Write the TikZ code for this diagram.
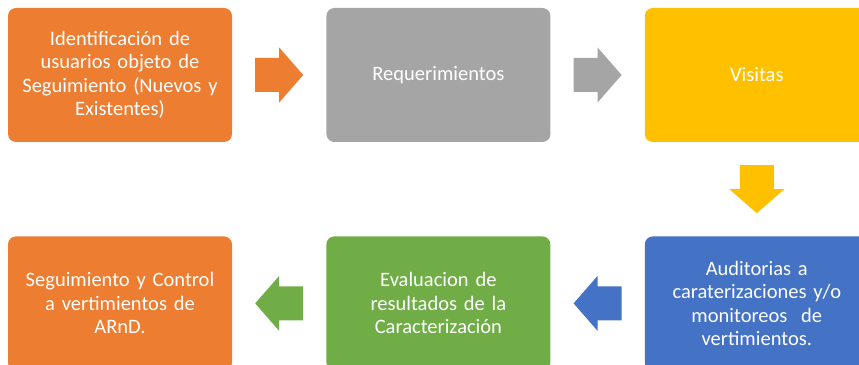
\documentclass[tikz,border=0pt]{standalone}
\usepackage{fontspec}
\setmainfont{Carlito}
\usepackage{tikz}
\usetikzlibrary{calc, positioning}
\definecolor{naranja}{HTML}{ED7D31}
\definecolor{gris}{HTML}{A5A5A5}
\definecolor{amarillo}{HTML}{FFC000}
\definecolor{azul}{HTML}{4472C4}
\definecolor{verde}{HTML}{70AD47}
\tikzset{
    roundnode/.style = {rectangle, rounded corners=8pt, inner sep=0pt, minimum width=224pt,
      minimum height=134pt, text width=216pt, align=center, text=white,
      font=\fontsize{20.5}{23.5}\selectfont, node distance=94pt},
}
% block arrow: #1 center, #2 colour, #3 angle
\newcommand{\flecha}[3]{\begin{scope}[shift={(#1)}, rotate=#3]
    \fill[#2] (-24,-17) -- (0,-17) -- (0,-27.5) -- (24,0) -- (0,27.5) -- (0,17) -- (-24,17) -- cycle;
  \end{scope}}

\begin{document}
\begin{tikzpicture}[x=1pt, y=1pt]
    \clip (0,0) rectangle (859,364);
    \node [roundnode, fill=naranja, name=ident] at (120,289) {Identificación de\\usuarios objeto de\\Seguimiento (Nuevos y\\Existentes)};
    \node [roundnode, fill=gris, name=req, right=of ident] {Requerimientos};
    \node [roundnode, fill=amarillo, name=vis, right=of req] {Visitas};
    \node [roundnode, fill=azul, name=aud, below=of vis] {Auditorias a\\caraterizaciones y/o\\monitoreos~ de\\vertimientos.};
    \node [roundnode, fill=verde, name=eval, below=of req] {Evaluacion de\\resultados de la\\Caracterización};
    \node [roundnode, fill=naranja, name=seg, below=of ident] {Seguimiento y Control\\a vertimientos de\\ARnD.};

    \coordinate (f1) at ($(ident.east)!0.5!(req.west)$);
    \coordinate (f2) at ($(req.east)!0.5!(vis.west)$);
    \coordinate (f3) at ($(vis.south)!0.5!(aud.north)$);
    \coordinate (f4) at ($(aud.west)!0.5!(eval.east)$);
    \coordinate (f5) at ($(eval.west)!0.5!(seg.east)$);
    \flecha{f1}{naranja}{0}
    \flecha{f2}{gris}{0}
    \flecha{f3}{amarillo}{-90}
    \flecha{f4}{azul}{180}
    \flecha{f5}{verde}{180}
\end{tikzpicture}
\end{document}
